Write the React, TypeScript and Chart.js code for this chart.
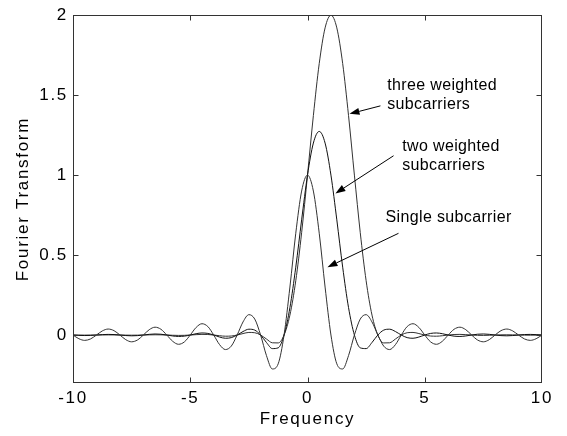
import React, { useEffect, useRef } from 'react';
import { Chart, registerables } from 'chart.js';

Chart.register(...registerables);

const frequency = [
  -10, -9.75, -9.5, -9.25, -9, -8.75, -8.5, -8.25, -8, -7.75, -7.5, -7.25, -7, -6.75, -6.5, -6.25,
  -6, -5.75, -5.5, -5.25, -5, -4.75, -4.5, -4.25, -4, -3.75, -3.5, -3.25, -3, -2.75, -2.5, -2.25,
  -2, -1.75, -1.5, -1.25, -1, -0.75, -0.5, -0.25, 0, 0.25, 0.5, 0.75, 1, 1.25, 1.5, 1.75,
  2, 2.25, 2.5, 2.75, 3, 3.25, 3.5, 3.75, 4, 4.25, 4.5, 4.75, 5, 5.25, 5.5, 5.75,
  6, 6.25, 6.5, 6.75, 7, 7.25, 7.5, 7.75, 8, 8.25, 8.5, 8.75, 9, 9.25, 9.5, 9.75, 10,
];

const singleSubcarrier = [
  0, -0.0231, -0.0335, -0.0243, 0, 0.0257, 0.0374, 0.0273, 0, -0.029, -0.0424, -0.031, 0, 0.0333, 0.049, 0.036,
  0, -0.0391, -0.0579, -0.0429, 0, 0.0474, 0.0707, 0.053, 0, -0.06, -0.0909, -0.0693, 0, 0.0818, 0.1273, 0.1,
  0, -0.1286, -0.2122, -0.1801, 0, 0.3001, 0.6366, 0.9003, 1, 0.9003, 0.6366, 0.3001, 0, -0.1801, -0.2122, -0.1286,
  0, 0.1, 0.1273, 0.0818, 0, -0.0693, -0.0909, -0.06, 0, 0.053, 0.0707, 0.0474, 0, -0.0429, -0.0579, -0.0391,
  0, 0.036, 0.049, 0.0333, 0, -0.031, -0.0424, -0.029, 0, 0.0273, 0.0374, 0.0257, 0, -0.0243, -0.0335, -0.0231, 0,
];

const twoWeightedSubcarriers = [
  0, -0.0022, -0.0032, -0.0023, 0, 0.0026, 0.0039, 0.003, 0, -0.0033, -0.005, -0.0037, 0, 0.0043, 0.0066, 0.005,
  0, -0.0058, -0.0089, -0.0069, 0, 0.0083, 0.0128, 0.0101, 0, -0.0126, -0.0202, -0.0163, 0, 0.0218, 0.0364, 0.0307,
  0, -0.0468, -0.0849, -0.0801, 0, 0.1715, 0.4244, 0.7202, 1, 1.2004, 1.2732, 1.2004, 1, 0.7202, 0.4244, 0.1715,
  0, -0.0801, -0.0849, -0.0468, 0, 0.0307, 0.0364, 0.0218, 0, -0.0163, -0.0202, -0.0126, 0, 0.0101, 0.0128, 0.0083,
  0, -0.0069, -0.0089, -0.0058, 0, 0.005, 0.0066, 0.0043, 0, -0.0037, -0.005, -0.0033, 0, 0.003, 0.0039, 0.0026, 0,
];

const threeWeightedSubcarriers = [
  0, -0.0004, -0.0006, -0.0004, 0, 0.0005, 0.0008, 0.0006, 0, -0.0007, -0.0011, -0.0008, 0, 0.001, 0.0015, 0.0012,
  0, -0.0015, -0.0024, -0.0019, 0, 0.0024, 0.004, 0.0032, 0, -0.0044, -0.0074, -0.0062, 0, 0.0092, 0.0162, 0.0144,
  0, -0.025, -0.0485, -0.0494, 0, 0.1247, 0.3395, 0.6401, 1, 1.3719, 1.6976, 1.9207, 2, 1.9207, 1.6976, 1.3719,
  1, 0.6401, 0.3395, 0.1247, 0, -0.0494, -0.0485, -0.025, 0, 0.0144, 0.0162, 0.0092, 0, -0.0062, -0.0074, -0.0044,
  0, 0.0032, 0.004, 0.0024, 0, -0.0019, -0.0024, -0.0015, 0, 0.0012, 0.0015, 0.001, 0, -0.0008, -0.0011, -0.0007, 0,
];

const xTickValues = [-10, -5, 0, 5, 10];
const yTickValues = [0, 0.5, 1, 1.5, 2];

const annotationLabels = [
  ['three weighted', 'subcarriers'],
  ['two weighted', 'subcarriers'],
  ['Single subcarrier'],
];
// text anchor (data coords): x, y of each line
const annotationTextX = [3.4, 4.04, 3.33];
const annotationTextY = [[1.562, 1.444], [1.178, 1.059], [0.737]];
// arrow tail and tip (data coords)
const arrowTail = [[3.11, 1.433], [3.67, 1.121], [3.88, 0.636]];
const arrowTip = [[1.79, 1.383], [1.19, 0.885], [0.85, 0.424]];

const FONT = 'Liberation Sans, Arial, sans-serif';

const framePlugin = {
  id: 'matlabFrame',
  beforeDraw(chart: any) {
    (chart.ctx as any).letterSpacing = '1.7px';
  },
  beforeDatasetsDraw(chart: any) {
    (chart.ctx as any).letterSpacing = '0px';
  },
  afterDraw(chart: any) {
    const { ctx, chartArea, scales } = chart;
    const { left, right, top, bottom } = chartArea;
    const xs = scales.x;
    const ys = scales.y;
    ctx.save();
    ctx.strokeStyle = '#333';
    ctx.lineWidth = 1;
    const L = Math.round(left) + 0.5;
    const R = Math.round(right) - 0.5;
    const T = Math.round(top) + 0.5;
    const B = Math.round(bottom) - 0.5;
    ctx.strokeRect(L, T, R - L, B - T);
    const tl = 5;
    ctx.beginPath();
    xTickValues.forEach((v) => {
      const px = Math.min(R, Math.max(L, Math.round(xs.getPixelForValue(v)) + 0.5));
      ctx.moveTo(px, B);
      ctx.lineTo(px, B - tl);
      ctx.moveTo(px, T);
      ctx.lineTo(px, T + tl);
    });
    yTickValues.forEach((v) => {
      const py = Math.min(B, Math.max(T, Math.round(ys.getPixelForValue(v)) + 0.5));
      ctx.moveTo(L, py);
      ctx.lineTo(L + tl, py);
      ctx.moveTo(R, py);
      ctx.lineTo(R - tl, py);
    });
    ctx.stroke();

    // annotations
    ctx.fillStyle = '#000';
    ctx.strokeStyle = '#000';
    (ctx as any).letterSpacing = '0.35px';
    ctx.font = `16px ${FONT}`;
    ctx.textAlign = 'left';
    ctx.textBaseline = 'middle';
    annotationLabels.forEach((lines, i) => {
      const tx = xs.getPixelForValue(annotationTextX[i]);
      lines.forEach((line, j) => {
        ctx.fillText(line, tx, ys.getPixelForValue(annotationTextY[i][j]));
      });
      const x0 = xs.getPixelForValue(arrowTail[i][0]);
      const y0 = ys.getPixelForValue(arrowTail[i][1]);
      const x1 = xs.getPixelForValue(arrowTip[i][0]);
      const y1 = ys.getPixelForValue(arrowTip[i][1]);
      const ang = Math.atan2(y1 - y0, x1 - x0);
      const hl = 10;
      const hw = 3.5;
      const bx = x1 - hl * Math.cos(ang);
      const by = y1 - hl * Math.sin(ang);
      ctx.beginPath();
      ctx.moveTo(x0, y0);
      ctx.lineTo(bx, by);
      ctx.lineWidth = 1;
      ctx.stroke();
      ctx.beginPath();
      ctx.moveTo(x1, y1);
      ctx.lineTo(bx + hw * Math.sin(ang), by - hw * Math.cos(ang));
      ctx.lineTo(bx - hw * Math.sin(ang), by + hw * Math.cos(ang));
      ctx.closePath();
      ctx.fill();
    });
    (ctx as any).letterSpacing = '0px';
    ctx.restore();
  },
};

export default function App() {
  const canvasRef = useRef<HTMLCanvasElement | null>(null);

  useEffect(() => {
    const canvas = canvasRef.current;
    if (!canvas) return;
    const mk = (vals: number[]) => frequency.map((f, i) => ({ x: f, y: vals[i] }));
    const lineStyle = {
      borderColor: '#111',
      borderWidth: 1,
      pointRadius: 0,
      fill: false,
      cubicInterpolationMode: 'monotone' as const,
    };
    const chart = new Chart(canvas, {
      type: 'line',
      data: {
        datasets: [
          { label: 'Single subcarrier', data: mk(singleSubcarrier), ...lineStyle, borderColor: '#333' },
          { label: 'two weighted subcarriers', data: mk(twoWeightedSubcarriers), ...lineStyle },
          { label: 'three weighted subcarriers', data: mk(threeWeightedSubcarriers), ...lineStyle, borderColor: '#333' },
        ],
      },
      options: {
        animation: false,
        responsive: false,
        devicePixelRatio: 1,
        layout: { padding: { left: 0, top: 14, right: 25, bottom: 0 } },
        plugins: {
          legend: { display: false },
          tooltip: { enabled: false },
        },
        scales: {
          x: {
            type: 'linear',
            min: -10,
            max: 10,
            grid: { display: false, drawTicks: false },
            border: { display: false },
            afterFit: (s: any) => {
              s.height = 53;
            },
            afterBuildTicks: (s: any) => {
              s.ticks = xTickValues.map((v) => ({ value: v }));
            },
            ticks: {
              autoSkip: false,
              maxRotation: 0,
              minRotation: 0,
              padding: 5,
              color: '#000',
              font: { family: FONT, size: 17 },
              callback: (v: any) => String(v),
            },
            title: {
              display: true,
              text: 'Frequency',
              color: '#000',
              font: { family: FONT, size: 17 },
              padding: { top: 0, bottom: 6 },
            },
          },
          y: {
            type: 'linear',
            min: -0.3,
            max: 2,
            grid: { display: false, drawTicks: false },
            border: { display: false },
            afterFit: (s: any) => {
              s.width = 73;
            },
            afterBuildTicks: (s: any) => {
              s.ticks = yTickValues.map((v) => ({ value: v }));
            },
            ticks: {
              padding: 5,
              color: '#000',
              font: { family: FONT, size: 17 },
              callback: (v: any) => String(v),
            },
            title: {
              display: true,
              text: 'Fourier Transform',
              color: '#000',
              font: { family: FONT, size: 17 },
              padding: { top: 13, bottom: 0 },
            },
          },
        },
      },
      plugins: [framePlugin],
    });
    return () => chart.destroy();
  }, []);

  return (
    <div style={{ position: 'fixed', left: 0, top: 0, width: 567, height: 436, background: '#fff' }}>
      <canvas ref={canvasRef} width={567} height={436} style={{ display: 'block' }} />
    </div>
  );
}
